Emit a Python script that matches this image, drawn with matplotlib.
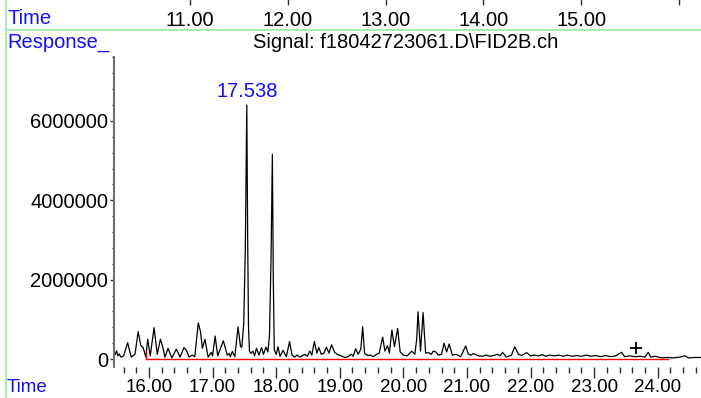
import matplotlib
matplotlib.use("Agg")
import matplotlib.pyplot as plt
import matplotlib.ticker as mticker
import numpy as np

plt.rcParams["font.family"] = ["Liberation Sans", "DejaVu Sans"]

# Trace vertices (time in min, response in millions)
trace_time = [
    15.47, 15.49, 15.51, 15.53, 15.56, 15.60, 15.665, 15.72, 15.78, 15.83,
    15.87, 15.91, 15.95, 15.98, 16.02, 16.08, 16.13, 16.18, 16.22, 16.25,
    16.30, 16.36, 16.43, 16.49, 16.55, 16.59, 16.63, 16.68, 16.72, 16.775,
    16.81, 16.84, 16.88, 16.93, 16.98, 17.00, 17.04, 17.08, 17.17, 17.23,
    17.26, 17.28, 17.31, 17.35, 17.40, 17.44, 17.46, 17.49, 17.515, 17.538,
    17.552, 17.565, 17.58, 17.60, 17.635, 17.66, 17.69, 17.73, 17.77, 17.80,
    17.84, 17.87, 17.895, 17.92, 17.94, 17.955, 17.97, 18.00, 18.03, 18.06,
    18.11, 18.16, 18.21, 18.25, 18.29, 18.33, 18.37, 18.45, 18.49, 18.53,
    18.56, 18.60, 18.64, 18.67, 18.71, 18.75, 18.79, 18.83, 18.87, 18.92,
    18.96, 19.02, 19.08, 19.13, 19.18, 19.21, 19.25, 19.29, 19.33, 19.36,
    19.39, 19.44, 19.48, 19.53, 19.58, 19.62, 19.675, 19.71, 19.75, 19.78,
    19.82, 19.86, 19.91, 19.95, 20.00, 20.06, 20.13, 20.18, 20.21, 20.23,
    20.27, 20.31, 20.35, 20.40, 20.44, 20.47, 20.51, 20.55, 20.60, 20.64,
    20.68, 20.72, 20.77, 20.83, 20.90, 20.98, 21.02, 21.06, 21.10, 21.18,
    21.25, 21.30, 21.36, 21.42, 21.48, 21.52, 21.56, 21.62, 21.70, 21.75,
    21.81, 21.86, 21.94, 22.00, 22.06, 22.12, 22.18, 22.24, 22.30, 22.38,
    22.44, 22.52, 22.58, 22.66, 22.72, 22.80, 22.88, 22.95, 23.02, 23.10,
    23.18, 23.26, 23.34, 23.43, 23.48, 23.56, 23.64, 23.72, 23.80, 23.85,
    23.89, 23.96, 24.06, 24.15, 24.25, 24.35, 24.43, 24.48, 24.58, 24.67,
]
trace_resp = [
    0.12, 0.21, 0.08, 0.13, 0.05, 0.08, 0.41, 0.05, 0.12, 0.69,
    0.35, 0.28, 0.05, 0.50, 0.08, 0.79, 0.12, 0.50, 0.28, 0.05,
    0.27, 0.03, 0.25, 0.05, 0.29, 0.22, 0.05, 0.10, 0.06, 0.91,
    0.69, 0.27, 0.50, 0.05, 0.17, 0.08, 0.58, 0.08, 0.46, 0.10,
    0.14, 0.06, 0.19, 0.06, 0.81, 0.31, 0.30, 0.90, 2.80, 6.40,
    3.00, 0.80, 0.20, 0.14, 0.20, 0.08, 0.27, 0.10, 0.29, 0.12,
    0.30, 0.18, 0.60, 2.60, 5.16, 2.00, 0.23, 0.12, 0.31, 0.07,
    0.22, 0.06, 0.44, 0.10, 0.05, 0.10, 0.05, 0.12, 0.07, 0.20,
    0.10, 0.44, 0.15, 0.29, 0.12, 0.15, 0.30, 0.15, 0.36, 0.17,
    0.12, 0.08, 0.04, 0.06, 0.12, 0.07, 0.26, 0.12, 0.25, 0.81,
    0.14, 0.09, 0.10, 0.06, 0.12, 0.15, 0.55, 0.20, 0.34, 0.15,
    0.73, 0.31, 0.77, 0.18, 0.10, 0.08, 0.20, 0.12, 0.50, 1.19,
    0.20, 1.17, 0.15, 0.16, 0.12, 0.20, 0.18, 0.10, 0.12, 0.40,
    0.18, 0.38, 0.10, 0.12, 0.06, 0.33, 0.13, 0.10, 0.14, 0.08,
    0.07, 0.10, 0.07, 0.09, 0.12, 0.08, 0.17, 0.05, 0.10, 0.31,
    0.12, 0.09, 0.16, 0.08, 0.10, 0.08, 0.11, 0.07, 0.10, 0.08,
    0.10, 0.07, 0.10, 0.07, 0.09, 0.07, 0.10, 0.07, 0.09, 0.06,
    0.09, 0.06, 0.08, 0.17, 0.06, 0.08, 0.06, 0.07, 0.05, 0.17,
    0.05, 0.07, 0.03, 0.04, 0.03, 0.05, 0.08, 0.03, 0.04, 0.04,
]

# Integration baseline (red)
base_time = [15.95, 15.95, 24.16]
base_resp = [0.21, 0.0, 0.0]

apex_time = 17.538
apex_resp = 6.40
apex_label = "17.538"

mark_time = 23.66
mark_resp = 0.28

top_ticks = [11, 12, 13, 14, 15, 16]
top_labels = ["11.00", "12.00", "13.00", "14.00", "15.00", ""]
title = "Signal: f18042723061.D\\FID2B.ch"

BLUE = "#1010ff"
GREEN = "#a0f0a0"
FS = 14.5
FS_BOTTOM = 13.5

fig = plt.figure(figsize=(7.01, 3.98), dpi=100)

# main chromatogram axes
ax = fig.add_axes([114 / 701, 31 / 398, 587 / 701, 310 / 398])
ax.plot(trace_time, np.array(trace_resp) * 1e6, color="black", lw=0.9)
ax.plot(base_time, np.array(base_resp) * 1e6, color="red", lw=1.0)
ax.plot([mark_time], [mark_resp * 1e6], marker="+", color="black", ms=8, mew=1.3)
ax.annotate(apex_label, (apex_time, apex_resp * 1e6), xytext=(0, 3),
            textcoords="offset points", ha="center", va="bottom",
            color=BLUE, fontsize=FS)

ax.set_xlim(15.45, 24.68)
ax.set_ylim(-0.2e6, 7.61e6)
ax.xaxis.set_major_locator(mticker.MultipleLocator(1))
ax.xaxis.set_minor_locator(mticker.MultipleLocator(0.2))
ax.xaxis.set_major_formatter(mticker.FormatStrFormatter("%.2f"))
ax.yaxis.set_major_locator(mticker.FixedLocator([0, 2e6, 4e6, 6e6]))
ax.yaxis.set_minor_locator(mticker.MultipleLocator(0.4e6))
ax.yaxis.set_major_formatter(mticker.FuncFormatter(lambda v, _: f"{v:.0f}"))

for s in ["top", "right", "bottom"]:
    ax.spines[s].set_visible(False)
ax.spines["left"].set_color("#707070")
ax.spines["left"].set_linewidth(1.5)

ax.tick_params(axis="x", which="major", length=8, width=1, color="#303030",
               pad=0.8, labelsize=FS_BOTTOM)
ax.tick_params(axis="x", which="minor", length=4.5, width=1, color="#303030")
ax.tick_params(axis="y", which="major", length=3, width=1, color="#303030",
               pad=1.2, labelsize=FS)
ax.tick_params(axis="y", which="minor", length=1.5, width=1, color="#303030")

# time axis of the previous panel, at the very top
top = fig.add_axes([0, 393 / 398, 1, 5 / 398])
top.set_xlim(11 - 190.3 / 97.7, 11 + 510.7 / 97.7)
top.set_ylim(0, 1)
top.set_xticks(top_ticks)
top.set_xticklabels(top_labels)
top.set_yticks([])
for s in top.spines.values():
    s.set_visible(False)
top.patch.set_visible(False)
top.tick_params(axis="x", direction="in", length=4, width=1, color="#303030",
                pad=4, labelsize=FS)

# frame lines
fig.add_artist(plt.Line2D([6 / 701, 6 / 701], [0, 1], color=GREEN, lw=1.3))
fig.add_artist(plt.Line2D([6 / 701, 1], [1 - 30 / 398, 1 - 30 / 398],
                          color=GREEN, lw=1.3))

fig.text(7 / 701, 1 - 18 / 398, "Time", color=BLUE, fontsize=FS, va="center")
fig.text(7 / 701, 1 - 42 / 398, "Response_", color=BLUE, fontsize=FS, va="center")
fig.text(406 / 701, 1 - 42 / 398, title, color="black", fontsize=FS,
         ha="center", va="center")
fig.text(7 / 701, 1 - 388 / 398, "Time", color=BLUE, fontsize=FS_BOTTOM,
         va="center")

fig.savefig("out.png", dpi=100)
